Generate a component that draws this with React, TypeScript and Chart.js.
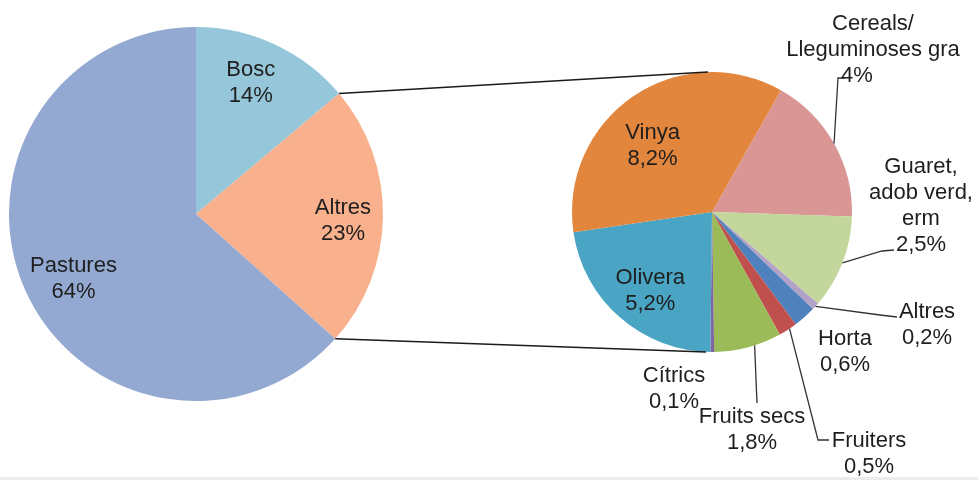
import React, { useEffect, useRef } from 'react';
import { Chart, registerables } from 'chart.js';

Chart.register(...registerables);

// ---- Data ----
const mainLabels = ['Bosc', 'Altres', 'Pastures'];
const mainValues = [14, 23, 64];
const mainColors = ['#95c6d9', '#f9b08c', '#93a9d2'];

const detailLabels = [
  'Cereals/\nLleguminoses gra',
  'Guaret,\nadob verd,\nerm',
  'Altres',
  'Horta',
  'Fruiters',
  'Fruits secs',
  'Cítrics',
  'Olivera',
  'Vinya',
];
const detailValues = [4, 2.5, 0.2, 0.6, 0.5, 1.8, 0.1, 5.2, 8.2];
const detailColors = [
  '#d99694',
  '#c3d69b',
  '#b3a2c7',
  '#4f81bd',
  '#c0504d',
  '#9bbb59',
  '#8064a2',
  '#4aa5c5',
  '#e2853d',
];

// ---- Layout / style ----
const FONT = '"Liberation Sans", Arial, Helvetica, sans-serif';
const FONT_SIZE = 22;
const LH = 26;
const TEXT = '#1e1e1e';
const LINE = '#333333';

// label nudges for the main pie (dx, dy) from the 0.77R mid-angle point
const mainNudge: [number, number][] = [
  [-6, -1],
  [3, 5],
  [9, 6],
];

type DetailLayout = {
  inside?: number;
  nudge?: [number, number];
  x?: number;
  y?: number;
  pctDx?: number;
  at?: number;
  leader?: [number, number][];
};
const detailLayout: DetailLayout[] = [
  { x: 873, y: 24, pctDx: -16, leader: [[838, 78], [845, 78]] },
  { x: 921, y: 167, leader: [[882, 251], [894, 250]] },
  { x: 927, y: 312, leader: [[880, 315], [897, 317]] },
  { x: 845, y: 339 },
  { x: 869, y: 441, at: 0.4, leader: [[818, 440], [829, 440]] },
  { x: 752, y: 417, at: 0.4, leader: [[757, 403]] },
  { x: 674, y: 376 },
  { inside: 0.67, nudge: [0, 8] },
  { inside: 0.65, nudge: [-8, 9] },
];

const pct = (v: number) => String(v).replace('.', ',') + '%';

function drawLines(ctx: CanvasRenderingContext2D, lines: string[], x: number, y: number, pctDx = 0) {
  lines.forEach((t, i) => {
    const dx = i === lines.length - 1 ? pctDx : 0;
    ctx.fillText(t, x + dx, y + i * LH);
  });
}

export default function App() {
  const leftRef = useRef<HTMLCanvasElement>(null);
  const rightRef = useRef<HTMLCanvasElement>(null);

  useEffect(() => {
    if (!leftRef.current || !rightRef.current) return;

    const mainLabelPlugin = {
      id: 'mainLabels',
      afterDatasetsDraw(chart: any) {
        const ctx = chart.ctx as CanvasRenderingContext2D;
        const arcs = chart.getDatasetMeta(0).data;
        ctx.save();
        ctx.font = `${FONT_SIZE}px ${FONT}`;
        ctx.fillStyle = TEXT;
        ctx.textAlign = 'center';
        ctx.textBaseline = 'middle';
        arcs.forEach((arc: any, i: number) => {
          const { x, y, startAngle, endAngle, outerRadius } = arc.getProps(
            ['x', 'y', 'startAngle', 'endAngle', 'outerRadius'],
            true
          );
          const mid = (startAngle + endAngle) / 2;
          const r = outerRadius * 0.77;
          const cx = x + r * Math.cos(mid) + mainNudge[i][0];
          const cy = y + r * Math.sin(mid) + mainNudge[i][1];
          drawLines(ctx, [mainLabels[i], pct(mainValues[i])], cx, cy - LH / 2);
        });
        ctx.restore();
      },
    };

    const left = new Chart(leftRef.current, {
      type: 'pie',
      data: {
        labels: mainLabels,
        datasets: [
          {
            data: mainValues,
            backgroundColor: mainColors,
            borderWidth: 0,
            radius: 187,
          } as any,
        ],
      },
      options: {
        animation: false,
        responsive: false,
        devicePixelRatio: 1,
        rotation: 0,
        layout: { padding: { left: 0, right: 586, top: 24, bottom: 76 } },
        plugins: { legend: { display: false }, tooltip: { enabled: false } },
      },
      plugins: [mainLabelPlugin],
    });

    const detailPlugin = {
      id: 'detailLabels',
      afterDatasetsDraw(chart: any) {
        const ctx = chart.ctx as CanvasRenderingContext2D;
        const arcs = chart.getDatasetMeta(0).data;
        ctx.save();

        // connectors from the "Altres" slice of the main pie to the detail pie
        const lArc: any = left.getDatasetMeta(0).data[1];
        const rArc: any = arcs[0];
        if (lArc && rArc) {
          const L = lArc.getProps(['x', 'y', 'startAngle', 'endAngle', 'outerRadius'], true);
          const R = rArc.getProps(['x', 'y', 'outerRadius'], true);
          ctx.strokeStyle = '#1a1a1a';
          ctx.lineWidth = 1.5;
          ctx.beginPath();
          ctx.moveTo(L.x + L.outerRadius * Math.cos(L.startAngle), L.y + L.outerRadius * Math.sin(L.startAngle));
          ctx.lineTo(R.x - 4, R.y - R.outerRadius);
          ctx.moveTo(L.x + L.outerRadius * Math.cos(L.endAngle), L.y + L.outerRadius * Math.sin(L.endAngle));
          ctx.lineTo(R.x - 6, R.y + R.outerRadius);
          ctx.stroke();
        }

        ctx.font = `${FONT_SIZE}px ${FONT}`;
        ctx.fillStyle = TEXT;
        ctx.textAlign = 'center';
        ctx.textBaseline = 'middle';
        ctx.strokeStyle = LINE;
        ctx.lineWidth = 1.3;

        arcs.forEach((arc: any, i: number) => {
          const { x, y, startAngle, endAngle, outerRadius } = arc.getProps(
            ['x', 'y', 'startAngle', 'endAngle', 'outerRadius'],
            true
          );
          const mid = (startAngle + endAngle) / 2;
          const lay = detailLayout[i];
          const lines = [...detailLabels[i].split('\n'), pct(detailValues[i])];
          if (lay.inside) {
            const r = outerRadius * lay.inside;
            const [nx, ny] = lay.nudge || [0, 0];
            const cx = x + r * Math.cos(mid) + nx;
            const cy = y + r * Math.sin(mid) + ny;
            drawLines(ctx, lines, cx, cy - ((lines.length - 1) * LH) / 2);
          } else {
            if (lay.leader) {
              const a = lay.at !== undefined ? startAngle + (endAngle - startAngle) * lay.at : mid;
              ctx.beginPath();
              ctx.moveTo(x + outerRadius * Math.cos(a), y + outerRadius * Math.sin(a));
              lay.leader.forEach(([px, py]) => ctx.lineTo(px, py));
              ctx.stroke();
            }
            drawLines(ctx, lines, lay.x as number, lay.y as number, lay.pctDx || 0);
          }
        });
        ctx.restore();
      },
    };

    const right = new Chart(rightRef.current, {
      type: 'pie',
      data: {
        labels: detailLabels,
        datasets: [
          {
            data: detailValues,
            backgroundColor: detailColors,
            borderWidth: 0,
            radius: 140,
          } as any,
        ],
      },
      options: {
        animation: false,
        responsive: false,
        devicePixelRatio: 1,
        rotation: 29.5,
        layout: { padding: { left: 572, right: 126, top: 72, bottom: 128 } },
        plugins: { legend: { display: false }, tooltip: { enabled: false } },
      },
      plugins: [detailPlugin],
    });

    return () => {
      right.destroy();
      left.destroy();
    };
  }, []);

  return (
    <div
      style={{
        position: 'absolute',
        left: 0,
        top: 0,
        width: 978,
        height: 480,
        background: '#ffffff',
        overflow: 'hidden',
      }}
    >
      <canvas ref={leftRef} width={978} height={480} style={{ position: 'absolute', left: 0, top: 0 }} />
      <canvas ref={rightRef} width={978} height={480} style={{ position: 'absolute', left: 0, top: 0 }} />
      <div style={{ position: 'absolute', left: 0, top: 477, width: 978, height: 3, background: '#ececec' }} />
    </div>
  );
}
